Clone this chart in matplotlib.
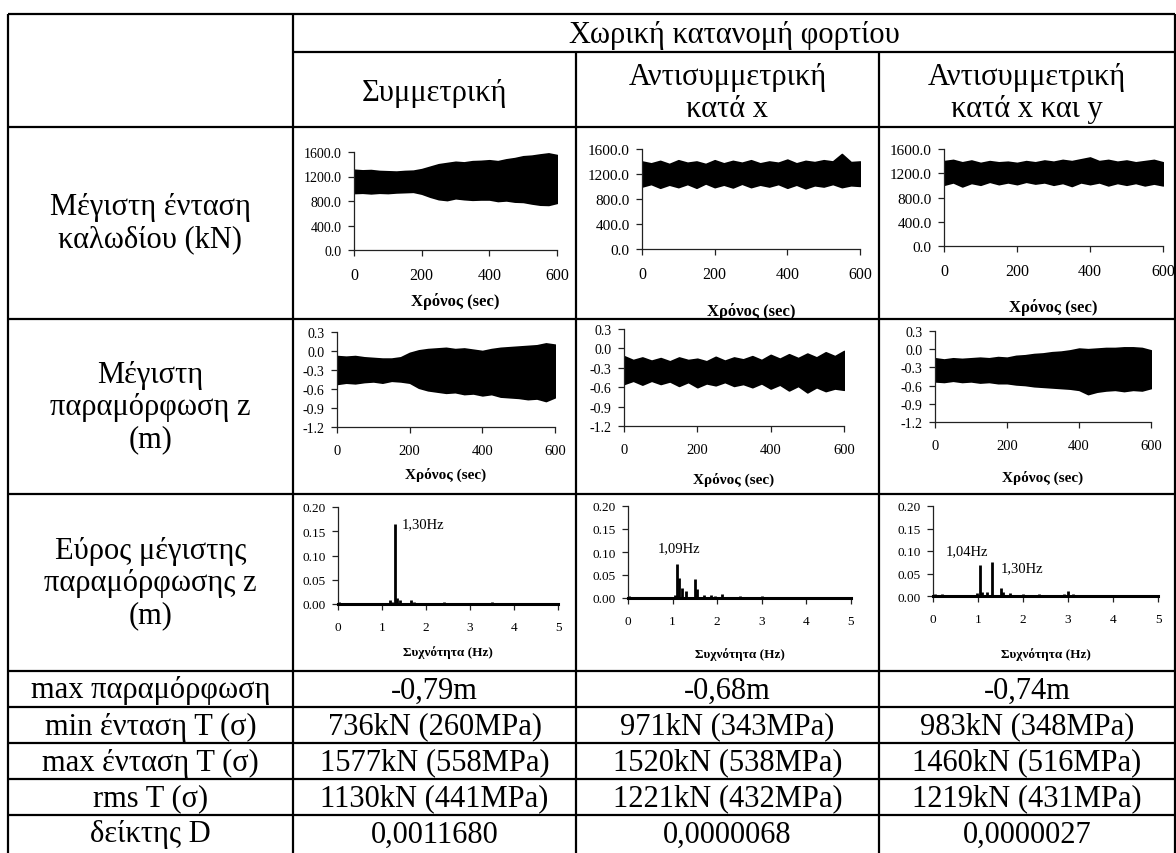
import matplotlib
matplotlib.use("Agg")
from matplotlib import pyplot as plt

plt.rcParams['font.family'] = ['Liberation Serif', 'DejaVu Serif']

# ---- table text ----
header_top = "Χωρική κατανομή φορτίου"
col_titles = ["Συμμετρική", "Αντισυμμετρική\nκατά x", "Αντισυμμετρική\nκατά x και y"]
row_titles = ["Μέγιστη ένταση\nκαλωδίου (kN)", "Μέγιστη\nπαραμόρφωση z\n(m)",
              "Εύρος μέγιστης\nπαραμόρφωσης z\n(m)"]
stat_names = ["max παραμόρφωση", "min ένταση T (σ)", "max ένταση T (σ)", "rms T (σ)", "δείκτης D"]
stat_values = [
    ["-0,79m", "-0,68m", "-0,74m"],
    ["736kN (260MPa)", "971kN (343MPa)", "983kN (348MPa)"],
    ["1577kN (558MPa)", "1520kN (538MPa)", "1460kN (516MPa)"],
    ["1130kN (441MPa)", "1221kN (432MPa)", "1219kN (431MPa)"],
    ["0,0011680", "0,0000068", "0,0000027"],
]

# ---- time histories: envelope of the oscillation, read every 25 s ----
t = [0, 25, 50, 75, 100, 125, 150, 175, 200, 225, 250, 275, 300,
     325, 350, 375, 400, 425, 450, 475, 500, 525, 550, 575, 600]

tens_up = [
    [1310, 1300, 1305, 1290, 1285, 1280, 1290, 1295, 1320, 1360, 1400, 1420, 1440,
     1430, 1450, 1455, 1465, 1450, 1480, 1500, 1530, 1540, 1560, 1577, 1550],
    [1400, 1370, 1410, 1360, 1420, 1380, 1400, 1360, 1420, 1370, 1410, 1380, 1420,
     1370, 1400, 1380, 1430, 1370, 1410, 1390, 1420, 1400, 1520, 1390, 1400],
    [1400, 1420, 1380, 1410, 1370, 1400, 1380, 1390, 1370, 1400, 1380, 1410, 1390,
     1420, 1400, 1430, 1460, 1400, 1420, 1390, 1410, 1380, 1400, 1420, 1380],
]
tens_lo = [
    [930, 935, 925, 935, 930, 940, 945, 950, 920, 870, 830, 815, 845,
     830, 820, 825, 825, 800, 810, 790, 785, 760, 740, 736, 770],
    [1000, 1040, 980, 1030, 990, 1040, 980, 1050, 990, 1030, 985, 1045, 990,
     1030, 1000, 1040, 980, 1030, 971, 1020, 1000, 1040, 990, 1020, 1010],
    [1010, 1050, 983, 1040, 1010, 1060, 1020, 1050, 1020, 1060, 1030, 1050, 1010,
     1040, 990, 1050, 1020, 1050, 1000, 1040, 1010, 1040, 1000, 1030, 1000],
]
defo_up = [
    [-0.08, -0.09, -0.08, -0.10, -0.11, -0.12, -0.12, -0.10, -0.03, 0.01, 0.03, 0.04, 0.05,
     0.03, 0.04, 0.02, 0.00, 0.03, 0.05, 0.06, 0.07, 0.08, 0.09, 0.12, 0.10],
    [-0.12, -0.18, -0.14, -0.19, -0.15, -0.20, -0.14, -0.18, -0.16, -0.20, -0.13, -0.19, -0.14,
     -0.17, -0.12, -0.18, -0.10, -0.16, -0.09, -0.15, -0.08, -0.14, -0.06, -0.12, -0.04],
    [-0.15, -0.17, -0.15, -0.16, -0.15, -0.14, -0.15, -0.13, -0.14, -0.11, -0.10, -0.08, -0.07,
     -0.05, -0.04, -0.02, 0.01, 0.00, 0.01, 0.02, 0.02, 0.03, 0.03, 0.02, -0.02],
]
defo_lo = [
    [-0.52, -0.50, -0.51, -0.49, -0.48, -0.50, -0.47, -0.48, -0.50, -0.58, -0.62, -0.64, -0.66,
     -0.65, -0.68, -0.67, -0.70, -0.68, -0.72, -0.73, -0.74, -0.76, -0.75, -0.79, -0.73],
    [-0.55, -0.50, -0.56, -0.50, -0.55, -0.51, -0.58, -0.52, -0.60, -0.54, -0.57, -0.52, -0.58,
     -0.55, -0.60, -0.54, -0.62, -0.56, -0.65, -0.58, -0.68, -0.60, -0.66, -0.62, -0.64],
    [-0.53, -0.54, -0.52, -0.54, -0.53, -0.55, -0.54, -0.56, -0.56, -0.58, -0.59, -0.61, -0.62,
     -0.63, -0.64, -0.65, -0.67, -0.74, -0.70, -0.68, -0.67, -0.69, -0.67, -0.68, -0.64],
]

# ---- amplitude spectra: spikes (Hz, m) ----
spec_f = [
    [0.02, 0.5, 1.18, 1.22, 1.30, 1.33, 1.42, 1.65, 1.72, 2.0, 2.4, 2.5, 2.9, 3.5],
    [0.03, 1.05, 1.09, 1.15, 1.20, 1.30, 1.50, 1.55, 1.70, 1.85, 1.95, 2.10, 2.5, 3.0, 3.5],
    [0.05, 0.2, 0.98, 1.04, 1.08, 1.20, 1.30, 1.50, 1.55, 1.72, 2.0, 2.35, 2.9, 3.0, 3.1, 4.1],
]
spec_a = [
    [0.004, 0.003, 0.008, 0.005, 0.165, 0.012, 0.008, 0.008, 0.004, 0.003, 0.004, 0.003, 0.003, 0.004],
    [0.005, 0.006, 0.073, 0.043, 0.022, 0.015, 0.041, 0.020, 0.006, 0.007, 0.005, 0.009, 0.004, 0.004, 0.003],
    [0.005, 0.004, 0.006, 0.068, 0.010, 0.008, 0.075, 0.018, 0.008, 0.006, 0.004, 0.005, 0.005, 0.012, 0.005, 0.003],
]
peak_text = [["1,30Hz"], ["1,09Hz"], ["1,04Hz", "1,30Hz"]]
peak_pos = [[(1.45, 0.165)], [(0.67, 0.11)], [(0.29, 0.10), (1.51, 0.064)]]

# ---- layout (pixels) ----
W, H = 1176, 854
col_x = [8, 293, 576, 879, 1175]
row_y = [15, 53, 128, 320, 495, 672, 708, 744, 780, 816, 856]
bottom = 880

fig = plt.figure(figsize=(W / 100, H / 100), dpi=100)
tab = fig.add_axes([0, 0, 1, 1])
tab.set_xlim(0, W)
tab.set_ylim(H, 0)
tab.axis('off')

lw = 1.6
for y in row_y:
    x0 = col_x[1] if y == row_y[1] else col_x[0]
    tab.plot([x0, col_x[-1]], [y, y], color='black', lw=lw, solid_capstyle='butt')
for i, x in enumerate(col_x):
    y0 = row_y[1] if i in (2, 3) else row_y[0]
    tab.plot([x, x], [y0, bottom], color='black', lw=lw, solid_capstyle='butt')

fs = 22
tab.text((col_x[1] + col_x[-1]) / 2, (row_y[0] + row_y[1]) / 2 + 1, header_top,
         ha='center', va='center', fontsize=fs)
for j, s in enumerate(col_titles):
    tab.text((col_x[j + 1] + col_x[j + 2]) / 2, (row_y[1] + row_y[2]) / 2 + 3, s,
             ha='center', va='center', fontsize=fs, linespacing=1.1)
for i, s in enumerate(row_titles):
    tab.text((col_x[0] + col_x[1]) / 2, (row_y[i + 2] + row_y[i + 3]) / 2, s,
             ha='center', va='center', fontsize=fs, linespacing=1.15)
for i, name in enumerate(stat_names):
    yc = (row_y[i + 5] + 18) + 1
    tab.text((col_x[0] + col_x[1]) / 2, yc, name, ha='center', va='center', fontsize=fs)
    for j in range(3):
        tab.text((col_x[j + 1] + col_x[j + 2]) / 2, yc, stat_values[i][j],
                 ha='center', va='center', fontsize=fs)

# chart boxes: left, top, right, bottom (px); xlabel centre y
box_tens = [(354, 153, 557, 251, 302), (642, 150, 860, 250, 311), (944, 150, 1163, 247, 308)]
box_defo = [(337, 333, 555, 428, 475), (624, 330, 844, 427, 480), (935, 332, 1151, 423, 478)]
box_spec = [(338, 508, 558, 605, 653), (628, 507, 851, 599, 655), (933, 507, 1158, 597, 655)]


def make_ax(box, ylim, yticks, yfmt, xlim, xticks, xlabel, yfs, xfs, lfs):
    l, tp, r, b, ly = box
    ax = fig.add_axes([l / W, 1 - b / H, (r - l) / W, (b - tp) / H])
    ax.set_xlim(*xlim)
    ax.set_ylim(*ylim)
    ax.set_xticks(xticks)
    ax.set_yticks(yticks)
    ax.set_yticklabels([yfmt % v for v in yticks], fontsize=yfs)
    ax.set_xticklabels([str(v) for v in xticks], fontsize=xfs)
    for s in ['top', 'right']:
        ax.spines[s].set_visible(False)
    for s in ['left', 'bottom']:
        ax.spines[s].set_linewidth(0.9)
        ax.spines[s].set_color('#222222')
    ax.tick_params(axis='y', length=4, width=0.9, pad=5, colors='#222222', labelcolor='black')
    ax.tick_params(axis='x', length=4, width=0.9, pad=8, colors='#222222', labelcolor='black')
    ax.set_xlabel(xlabel, fontsize=lfs, fontweight='bold')
    ax.xaxis.set_label_coords(0.5, (b - ly) / (b - tp), transform=ax.transAxes)
    ax.xaxis.label.set_va('center')
    ax.patch.set_alpha(0)
    return ax


for j in range(3):
    ys = 10 if j == 0 else 11
    ax = make_ax(box_tens[j], (0, 1600), [0, 400, 800, 1200, 1600], '%.1f',
                 (0, 600), [0, 200, 400, 600], 'Χρόνος (sec)', ys, 11.5, 12)
    ax.fill_between(t, tens_lo[j], tens_up[j], color='black', lw=1.2)

    ax = make_ax(box_defo[j], (-1.2, 0.3), [-1.2, -0.9, -0.6, -0.3, 0.0, 0.3], '%.1f',
                 (0, 600), [0, 200, 400, 600], 'Χρόνος (sec)', 10, 10.5, 11)
    ax.fill_between(t, defo_lo[j], defo_up[j], color='black', lw=1.2)

    ax = make_ax(box_spec[j], (0, 0.2), [0, 0.05, 0.10, 0.15, 0.20], '%.2f',
                 (0, 5), [0, 1, 2, 3, 4, 5], 'Συχνότητα (Hz)', 9.5, 9.5, 9.5)
    ax.spines['bottom'].set_linewidth(2.2)
    ax.spines['bottom'].set_color('black')
    ax.vlines(spec_f[j], 0, spec_a[j], color='black', lw=2)
    for txt, (fx, fy) in zip(peak_text[j], peak_pos[j]):
        ax.text(fx, fy, txt, fontsize=10.5, va='center', ha='left')

fig.savefig("out.png", dpi=100)
